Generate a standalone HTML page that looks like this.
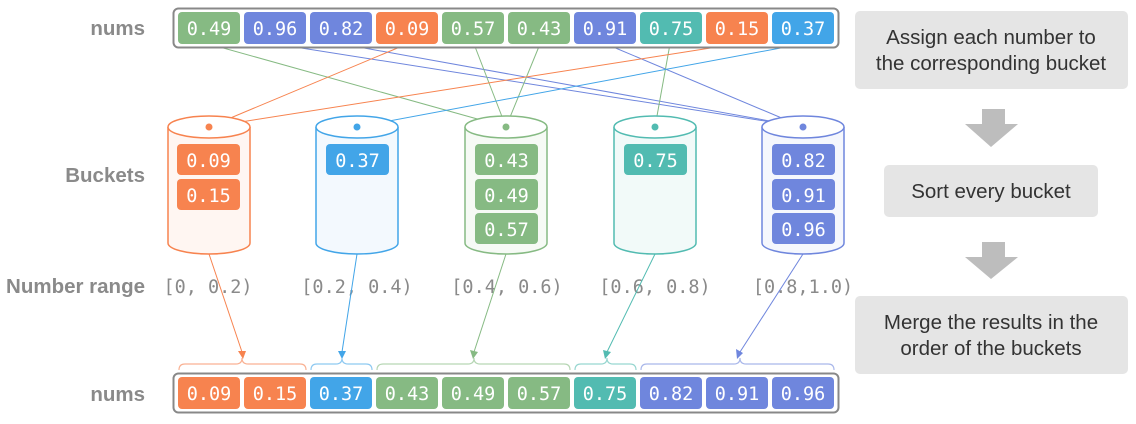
<!DOCTYPE html>
<html><head><meta charset="utf-8"><style>
html,body{margin:0;padding:0;background:#fff;}
svg{display:block;}
.m{font-family:"DejaVu Sans Mono","Liberation Mono",monospace;font-size:18.5px;fill:#fff;text-anchor:middle;}
.r{font-family:"DejaVu Sans Mono","Liberation Mono",monospace;font-size:18.5px;fill:#8a8a8a;text-anchor:middle;}
.l{font-family:"Liberation Sans",sans-serif;font-size:20.5px;font-weight:bold;fill:#8a8a8a;text-anchor:end;}
.t{font-family:"Liberation Sans",sans-serif;font-size:20.5px;fill:#333;text-anchor:middle;}
</style></head><body>
<svg width="1136" height="424" viewBox="0 0 1136 424" xmlns="http://www.w3.org/2000/svg">
<text class="l" x="145" y="35">nums</text>
<text class="l" x="145" y="182">Buckets</text>
<text class="l" x="145" y="293">Number range</text>
<text class="l" x="145" y="401">nums</text>

<g stroke-width="1" fill="none">
<line x1="209" y1="44" x2="506" y2="127" stroke="#86ba83"/>
<line x1="276" y1="44" x2="803" y2="127" stroke="#6f86dd"/>
<line x1="342" y1="44" x2="803" y2="127" stroke="#6f86dd"/>
<line x1="407" y1="44" x2="209" y2="127" stroke="#f7834f"/>
<line x1="474" y1="44" x2="506" y2="127" stroke="#86ba83"/>
<line x1="540" y1="44" x2="506" y2="127" stroke="#86ba83"/>
<line x1="606" y1="44" x2="803" y2="127" stroke="#6f86dd"/>
<line x1="670" y1="44" x2="655" y2="127" stroke="#86ba83"/>
<line x1="736" y1="44" x2="209" y2="127" stroke="#f7834f"/>
<line x1="802" y1="44" x2="357" y2="127" stroke="#42a5e8"/>
</g>

<rect x="173.5" y="8.5" width="665" height="39" rx="5" fill="#fff" stroke="#888" stroke-width="2"/>
<g>
<rect x="178" y="12" width="62" height="32" rx="4" fill="#86ba83"/><text class="m" x="209" y="35">0.49</text>
<rect x="244" y="12" width="62" height="32" rx="4" fill="#6f86dd"/><text class="m" x="275" y="35">0.96</text>
<rect x="310" y="12" width="62" height="32" rx="4" fill="#6f86dd"/><text class="m" x="341" y="35">0.82</text>
<rect x="376" y="12" width="62" height="32" rx="4" fill="#f7834f"/><text class="m" x="407" y="35">0.09</text>
<rect x="442" y="12" width="62" height="32" rx="4" fill="#86ba83"/><text class="m" x="473" y="35">0.57</text>
<rect x="508" y="12" width="62" height="32" rx="4" fill="#86ba83"/><text class="m" x="539" y="35">0.43</text>
<rect x="574" y="12" width="62" height="32" rx="4" fill="#6f86dd"/><text class="m" x="605" y="35">0.91</text>
<rect x="640" y="12" width="62" height="32" rx="4" fill="#52bbb1"/><text class="m" x="671" y="35">0.75</text>
<rect x="706" y="12" width="62" height="32" rx="4" fill="#f7834f"/><text class="m" x="737" y="35">0.15</text>
<rect x="772" y="12" width="62" height="32" rx="4" fill="#42a5e8"/><text class="m" x="803" y="35">0.37</text>
</g>

<g stroke-width="1.5">
<path d="M168 127 V243 A41 11 0 0 0 250 243 V127" fill="#fff6f2" stroke="#f7834f"/>
<ellipse cx="209" cy="127" rx="41" ry="11" fill="#fff" stroke="#f7834f"/>
<path d="M316 127 V243 A41 11 0 0 0 398 243 V127" fill="#f3f9fe" stroke="#42a5e8"/>
<ellipse cx="357" cy="127" rx="41" ry="11" fill="#fff" stroke="#42a5e8"/>
<path d="M465 127 V243 A41 11 0 0 0 547 243 V127" fill="#f6faf5" stroke="#86ba83"/>
<ellipse cx="506" cy="127" rx="41" ry="11" fill="#fff" stroke="#86ba83"/>
<path d="M614 127 V243 A41 11 0 0 0 696 243 V127" fill="#f2faf9" stroke="#52bbb1"/>
<ellipse cx="655" cy="127" rx="41" ry="11" fill="#fff" stroke="#52bbb1"/>
<path d="M762 127 V243 A41 11 0 0 0 844 243 V127" fill="#f5f7fd" stroke="#6f86dd"/>
<ellipse cx="803" cy="127" rx="41" ry="11" fill="#fff" stroke="#6f86dd"/>
</g>
<circle cx="209" cy="127" r="3.5" fill="#f7834f"/>
<circle cx="357" cy="127" r="3.5" fill="#42a5e8"/>
<circle cx="506" cy="127" r="3.5" fill="#86ba83"/>
<circle cx="655" cy="127" r="3.5" fill="#52bbb1"/>
<circle cx="803" cy="127" r="3.5" fill="#6f86dd"/>

<rect x="177" y="144" width="63" height="31" rx="4" fill="#f7834f"/><text class="m" x="208.5" y="167">0.09</text>
<rect x="177" y="179" width="63" height="31" rx="4" fill="#f7834f"/><text class="m" x="208.5" y="202">0.15</text>
<rect x="326" y="144" width="63" height="31" rx="4" fill="#42a5e8"/><text class="m" x="357.5" y="167">0.37</text>
<rect x="475" y="144" width="63" height="31" rx="4" fill="#86ba83"/><text class="m" x="506.5" y="167">0.43</text>
<rect x="475" y="179" width="63" height="31" rx="4" fill="#86ba83"/><text class="m" x="506.5" y="202">0.49</text>
<rect x="475" y="213" width="63" height="31" rx="4" fill="#86ba83"/><text class="m" x="506.5" y="236">0.57</text>
<rect x="624" y="144" width="63" height="31" rx="4" fill="#52bbb1"/><text class="m" x="655.5" y="167">0.75</text>
<rect x="772" y="144" width="63" height="31" rx="4" fill="#6f86dd"/><text class="m" x="803.5" y="167">0.82</text>
<rect x="772" y="179" width="63" height="31" rx="4" fill="#6f86dd"/><text class="m" x="803.5" y="202">0.91</text>
<rect x="772" y="213" width="63" height="31" rx="4" fill="#6f86dd"/><text class="m" x="803.5" y="236">0.96</text>

<text class="r" x="208" y="293">[0, 0.2)</text>
<text class="r" x="357" y="293">[0.2, 0.4)</text>
<text class="r" x="507" y="293">[0.4, 0.6)</text>
<text class="r" x="655" y="293">[0.6, 0.8)</text>
<text class="r" x="803" y="293">[0.8,1.0)</text>

<g stroke-width="1" fill="none">
<line x1="209" y1="254" x2="242" y2="352" stroke="#f7834f"/>
<line x1="357" y1="254" x2="342" y2="352" stroke="#42a5e8"/>
<line x1="506" y1="254" x2="474" y2="352" stroke="#86ba83"/>
<line x1="655" y1="254" x2="607" y2="352" stroke="#52bbb1"/>
<line x1="803" y1="254" x2="740" y2="352" stroke="#6f86dd"/>
</g>
<polygon points="238,351 246,351 243,359" fill="#f7834f"/>
<polygon points="338,351 346,351 342,359" fill="#42a5e8"/>
<polygon points="470,350 478,352 473,359" fill="#86ba83"/>
<polygon points="603,350 611,352 605,359" fill="#52bbb1"/>
<polygon points="736,349 743,353 737,359" fill="#6f86dd"/>

<g fill="none" stroke-width="1.2">
<path d="M179 370 Q179 364 185 364 H236 Q242 364 242 358 Q242 364 248 364 H300 Q306 364 306 370" stroke="#f9b193"/>
<path d="M311 370 Q311 364 317 364 H336 Q342 364 342 358 Q342 364 348 364 H366 Q372 364 372 370" stroke="#8ec9f1"/>
<path d="M377 370 Q377 364 383 364 H468 Q474 364 474 358 Q474 364 480 364 H564 Q570 364 570 370" stroke="#b6d6b4"/>
<path d="M575 370 Q575 364 581 364 H601 Q607 364 607 358 Q607 364 613 364 H630 Q636 364 636 370" stroke="#97d6d0"/>
<path d="M641 370 Q641 364 647 364 H734 Q740 364 740 358 Q740 364 746 364 H828 Q834 364 834 370" stroke="#a9b7ea"/>
</g>

<rect x="173.5" y="373.5" width="665" height="39" rx="5" fill="#fff" stroke="#888" stroke-width="2"/>
<rect x="178" y="377" width="62" height="32" rx="4" fill="#f7834f"/><text class="m" x="209" y="400">0.09</text>
<rect x="244" y="377" width="62" height="32" rx="4" fill="#f7834f"/><text class="m" x="275" y="400">0.15</text>
<rect x="310" y="377" width="62" height="32" rx="4" fill="#42a5e8"/><text class="m" x="341" y="400">0.37</text>
<rect x="376" y="377" width="62" height="32" rx="4" fill="#86ba83"/><text class="m" x="407" y="400">0.43</text>
<rect x="442" y="377" width="62" height="32" rx="4" fill="#86ba83"/><text class="m" x="473" y="400">0.49</text>
<rect x="508" y="377" width="62" height="32" rx="4" fill="#86ba83"/><text class="m" x="539" y="400">0.57</text>
<rect x="574" y="377" width="62" height="32" rx="4" fill="#52bbb1"/><text class="m" x="605" y="400">0.75</text>
<rect x="640" y="377" width="62" height="32" rx="4" fill="#6f86dd"/><text class="m" x="671" y="400">0.82</text>
<rect x="706" y="377" width="62" height="32" rx="4" fill="#6f86dd"/><text class="m" x="737" y="400">0.91</text>
<rect x="772" y="377" width="62" height="32" rx="4" fill="#6f86dd"/><text class="m" x="803" y="400">0.96</text>

<rect x="855" y="11" width="273" height="78" rx="5" fill="#e5e5e5"/>
<text class="t" x="991" y="44">Assign each number to</text>
<text class="t" x="991" y="70">the corresponding bucket</text>
<polygon points="982,109 1005,109 1005,124 1018,124 991,147 965,124 982,124" fill="#bdbdbd"/>
<rect x="884" y="165" width="214" height="52" rx="5" fill="#e5e5e5"/>
<text class="t" x="991" y="198">Sort every bucket</text>
<polygon points="982,242 1005,242 1005,257 1018,257 991,279 965,257 982,257" fill="#bdbdbd"/>
<rect x="855" y="296" width="273" height="78" rx="5" fill="#e5e5e5"/>
<text class="t" x="991" y="329">Merge the results in the</text>
<text class="t" x="991" y="355">order of the buckets</text>
</svg>
</body></html>
